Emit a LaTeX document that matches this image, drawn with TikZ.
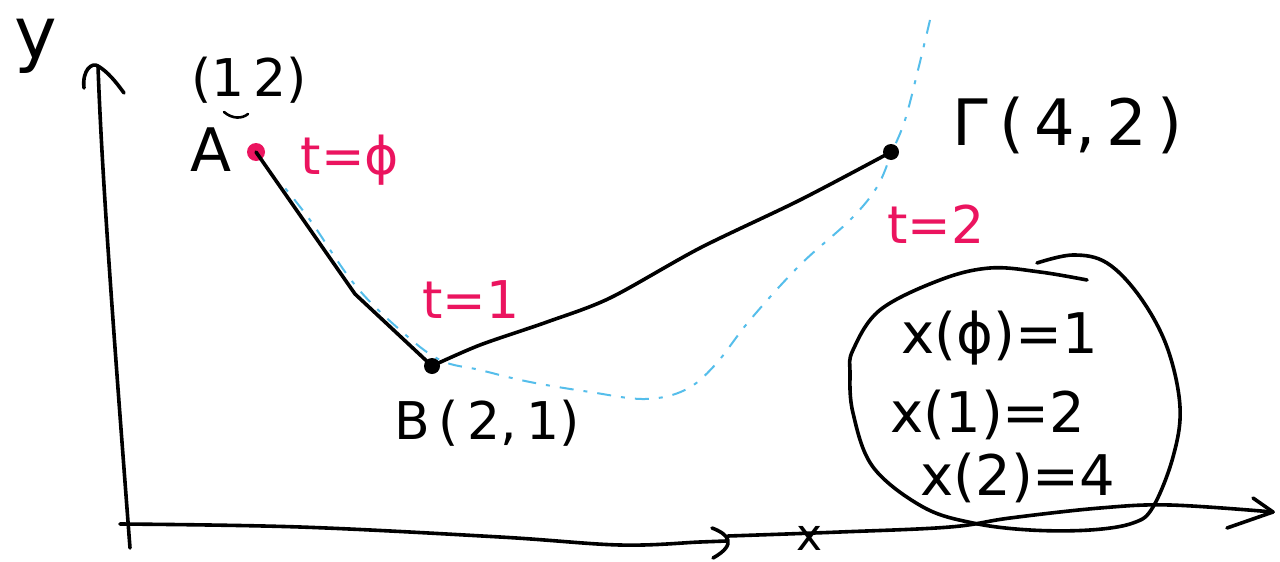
\documentclass[tikz,border=0pt]{standalone}
\usepackage{fontspec}
\setmainfont{DejaVu Sans}
\definecolor{inkred}{RGB}{235,20,95}
\definecolor{inkcyan}{RGB}{85,190,235}
\begin{document}
\begin{tikzpicture}[x=0.5pt,y=-0.5pt,
  ink/.style={line width=1.8pt, line cap=round, line join=round},
  cyanline/.style={inkcyan, line width=1pt, dash pattern=on 7pt off 5pt on 2pt off 5pt},
  lbl/.style={font=\fontsize{26}{30}\selectfont, inner sep=0pt},
  rlbl/.style={lbl, text=inkred},
  ptdot/.style={circle, fill, inner sep=0pt, minimum size=7pt}]
\useasboundingbox (0,0) rectangle (1280,562);
\fill[white] (0,0) rectangle (1280,562);

% axes
\coordinate (yb) at (130,548);
\coordinate (yt) at (98,66);
\draw[ink] (yb) .. controls (115,350) and (102,180) .. (yt);
\draw[ink] (84,88) .. controls (82,70) and (92,62) .. (yt) .. controls (108,72) and (116,82) .. (124,93);
\node[lbl, font=\fontsize{36}{40}\selectfont] (ylab) at (36,46) {y};

\coordinate (xa0) at (120,524);
\coordinate (xa1) at (726,541);
\draw[ink] plot[smooth, tension=0.6] coordinates {(xa0) (300,527) (500,537) (620,545) (700,542) (xa1)};
\draw[ink] (712,528) .. controls (728,534) and (738,544) .. (713,558);
\coordinate (xb0) at (728,536);
\coordinate (xb1) at (1273,512);
\draw[ink] plot[smooth, tension=0.6] coordinates {(xb0) (840,532) (950,527) (1010,518) (1100,508) (1170,505) (xb1)};
\draw[ink] (1227,528) -- (xb1) -- (1253,498);
\node[lbl, font=\fontsize{22}{24}\selectfont] (xlab) at (810,538) {x};

% cyan dashed curve
\draw[cyanline] plot[smooth, tension=0.6] coordinates {(930,20) (918,70) (905,120) (892,152) (877,187) (850,220) (800,265) (750,320) (715,365) (685,390) (645,399) (590,392) (530,382) (480,370) (440,360) (400,330) (355,285) (310,220) (280,182)};

% points
\node[ptdot, fill=inkred, minimum size=9pt] (A) at (256,152) {};
\node[ptdot, minimum size=8pt] (B) at (432,366) {};
\node[ptdot, minimum size=8pt] (G) at (891,152) {};
\coordinate (kAB) at (355,294);
\draw[ink] (A.center) -- (kAB) -- (B.center);
\draw[ink] plot[smooth, tension=0.5] coordinates {(B.center) (480,345) (547,322) (610,298) (700,248) (800,200) (G.center)};

% labels
\node[lbl, font=\fontsize{30}{32}\selectfont] (Alab) at (211,150) {A};
\node[lbl] (Acoord) at (249,80) {(1\,2)};
\draw[ink, line width=1.3pt] (224,112) .. controls (232,119) and (242,119) .. (248,114);
\node[rlbl] (tA) at (350,160) {t=ϕ};
\node[rlbl] (tB) at (471,300) {t=1};
\node[rlbl] (tG) at (936,224) {t=2};
\node[lbl] (Blab) at (487,423) {B\,(\,2,\,1)};
\node[lbl, font=\fontsize{32}{36}\selectfont] (Glab) at (1068,125) {Γ\,(\,4,\,2\,)};

% blob with values
\draw[ink] plot[smooth, tension=0.6] coordinates {(1037,263) (1073,255) (1107,263) (1140,297) (1167,347) (1180,407) (1173,457) (1153,507) (1133,523) (1090,530) (1030,530) (973,523) (923,507) (873,467) (853,413) (850,373) (853,350) (880,310) (940,280) (990,268) (1040,272) (1087,280)};
\node[lbl, font=\fontsize{28}{32}\selectfont] (v0) at (1000,338) {x(ϕ)=1};
\node[lbl, font=\fontsize{28}{32}\selectfont] (v1) at (988,415) {x(1)=2};
\node[lbl, font=\fontsize{28}{32}\selectfont] (v2) at (1018,478) {x(2)=4};
\end{tikzpicture}
\end{document}
